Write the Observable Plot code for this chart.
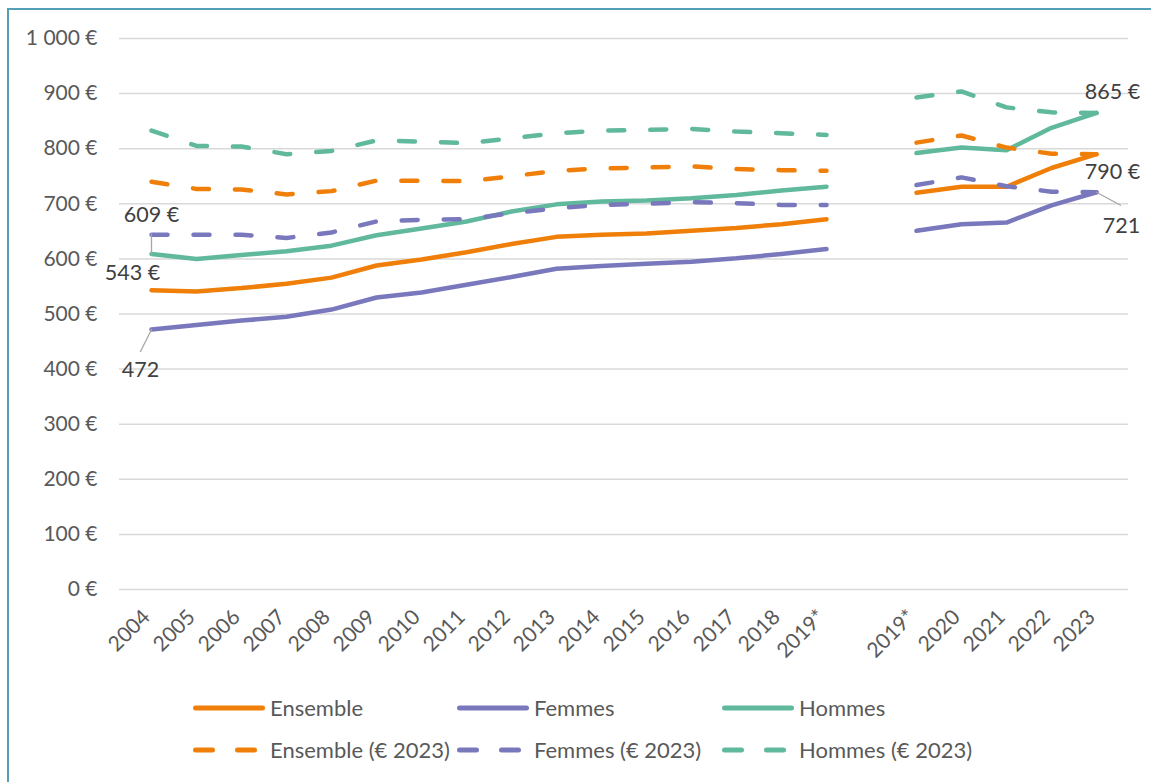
<!DOCTYPE html>
<html>
<head>
<meta charset="utf-8">
<script src="https://cdn.jsdelivr.net/npm/d3@7"></script>
<script src="https://cdn.jsdelivr.net/npm/@observablehq/plot@0.6"></script>
<style>
  html, body { margin: 0; padding: 0; background: #fff; overflow: hidden; }
  body { width: 1151px; height: 782px; position: relative; font-family: Lato, "Open Sans", sans-serif; }
  #frame { position: absolute; left: 7px; top: 8px; width: 2000px; height: 2000px;
           border-left: 2px solid #559fb6; border-top: 2px solid #559fb6; pointer-events: none; }
  #chart { position: absolute; left: 0; top: 0; }
  #legend { position: absolute; left: 0; top: 680px; width: 1151px; height: 102px;
            font-family: Lato, sans-serif; font-size: 22px; color: #595959; }
  .item { position: absolute; display: flex; align-items: center; height: 26px; line-height: 26px; white-space: nowrap; }
  .item svg { margin-right: 5px; }
</style>
</head>
<body>
<div id="chart"></div>
<div id="legend"></div>
<div id="frame"></div>
<script>
// Categories (one blank slot separates the two series breaks)
const categories = ["2004","2005","2006","2007","2008","2009","2010","2011","2012","2013","2014","2015","2016","2017","2018","2019*a","gap","2019*b","2020","2021","2022","2023"];
const categoryLabels = ["2004","2005","2006","2007","2008","2009","2010","2011","2012","2013","2014","2015","2016","2017","2018","2019*","","2019*","2020","2021","2022","2023"];

// Series values (€ per month)
const ensemble   = [543,541,547,555,566,588,599,612,627,640,644,646,651,656,663,672,null,720,731,731,765,790];
const femmes     = [472,480,488,495,508,530,539,553,567,582,587,591,595,601,609,618,null,651,663,666,697,721];
const hommes     = [609,600,607,614,624,643,655,668,686,699,704,706,710,716,724,731,null,792,802,797,838,865];
const ensemble23 = [740,727,726,717,723,742,742,741,750,760,764,766,768,763,761,760,null,811,824,802,791,790];
const femmes23   = [644,644,644,638,648,668,671,672,683,692,698,700,703,701,698,698,null,734,748,732,722,721];
const hommes23   = [833,805,804,790,796,815,813,810,819,828,833,834,836,831,828,825,null,893,904,875,866,865];

const seriesNames = ["Ensemble","Femmes","Hommes","Ensemble (€ 2023)","Femmes (€ 2023)","Hommes (€ 2023)"];
const seriesValues = [ensemble, femmes, hommes, ensemble23, femmes23, hommes23];
const seriesColors = ["#f07f09","#7a78bd","#60b89d","#f07f09","#7a78bd","#60b89d"];
const seriesDashed = [false,false,false,true,true,true];

// Y ticks
const yTicks = [0,100,200,300,400,500,600,700,800,900,1000];

// Data labels
const labelCats   = ["2004","2004","2004","2023","2023","2023"];
const labelValues = [609,543,472,865,790,721];
const labelTexts  = ["609 €","543 €","472","865 €","790 €","721"];

const fmtEuro = d => (d >= 1000 ? d3.format(",")(d).replace(",", "\u00a0") : String(d)) + "\u00a0€";
const labelOf = new Map(categories.map((c, i) => [c, categoryLabels[i]]));

const rows = [];
seriesNames.forEach((name, s) => {
  categories.forEach((c, i) => rows.push({series: name, cat: c, value: seriesValues[s][i]}));
});

const lineMarks = seriesNames.map((name, s) =>
  Plot.line(rows.filter(r => r.series === name), {
    x: "cat", y: "value",
    stroke: seriesColors[s], strokeWidth: 4.5,
    strokeLinecap: "round", strokeLinejoin: "round",
    strokeDasharray: seriesDashed[s] ? "16 26" : null
  })
);

const lab = labelCats.map((c, i) => ({cat: c, value: labelValues[i], text: labelTexts[i]}));
const labelOffsets = [[0,-39],[-19,-17],[-11,41],[16,-21],[16,18],[25,34]];
const textMarks = lab.map((d, i) => Plot.text([d], {
  x: "cat", y: "value", text: "text",
  dx: labelOffsets[i][0], dy: labelOffsets[i][1],
  fill: "#404040", fontSize: 21.5, textAnchor: "middle"
}));

const leader = {draw(context, l) { context.moveTo(0, 0); context.lineTo(0, -l); }};
const leaderMarks = [
  Plot.vector([lab[0]], {x: "cat", y: "value", length: 20, rotate: 0, anchor: "start", shape: leader, stroke: "#a6a6a6", strokeWidth: 1.3}),
  Plot.vector([lab[2]], {x: "cat", y: "value", length: 24.6, rotate: 206.6, anchor: "start", shape: leader, stroke: "#a6a6a6", strokeWidth: 1.3}),
  Plot.vector([lab[5]], {x: "cat", y: "value", length: 27.3, rotate: 118.4, anchor: "start", shape: leader, stroke: "#a6a6a6", strokeWidth: 1.3})
];

const chart = Plot.plot({
  width: 1151, height: 680,
  marginLeft: 119, marginRight: 23, marginTop: 38, marginBottom: 91,
  style: {fontFamily: "Lato, sans-serif", fontSize: "21px", color: "#595959", background: "transparent", overflow: "visible"},
  x: {type: "point", domain: categories, padding: 0.5, axis: null},
  y: {domain: [0, 1000], ticks: yTicks, tickFormat: fmtEuro, label: null, tickSize: 0, tickPadding: 22},
  marks: [
    Plot.ruleY(yTicks, {stroke: "#d9d9d9", strokeWidth: 1.5}),
    Plot.axisX({tickRotate: -45, tickSize: 0, tickPadding: 10, dx: -5, dy: 14, label: null,
                tickFormat: d => labelOf.get(d), fill: "#595959"}),
    ...lineMarks,
    ...leaderMarks,
    ...textMarks
  ]
});
document.getElementById("chart").appendChild(chart);

// Legend
const legend = document.getElementById("legend");
const colX = [193, 457, 722];
const rowY = [15, 57];
seriesNames.forEach((name, s) => {
  const item = document.createElement("div");
  item.className = "item";
  item.style.left = colX[s % 3] + "px";
  item.style.top = rowY[Math.floor(s / 3)] + "px";
  const dash = seriesDashed[s];
  item.innerHTML = `<svg width="72" height="10"><line x1="2.5" y1="5" x2="${dash ? 64 : 69.5}" y2="5" stroke="${seriesColors[s]}" stroke-width="5" stroke-linecap="round" ${dash ? 'stroke-dasharray="17 25"' : ''}/></svg><span>${name}</span>`;
  legend.appendChild(item);
});
</script>
</body>
</html>
